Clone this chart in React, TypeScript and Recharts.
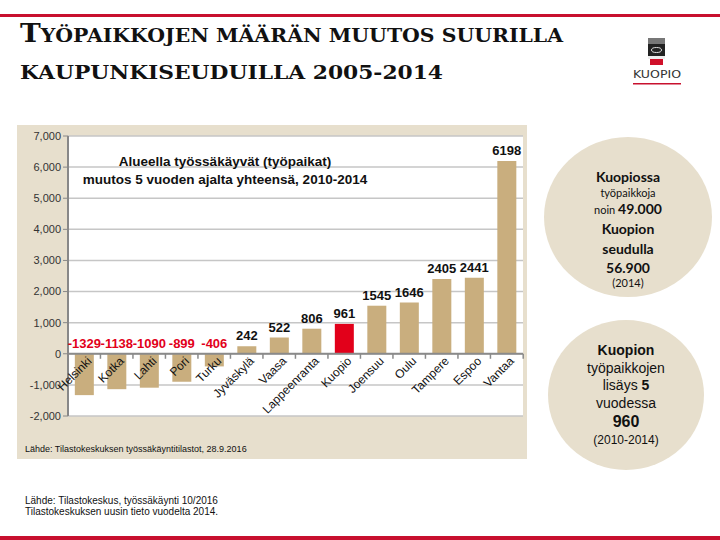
import React from 'react';
import { BarChart, Bar, XAxis, YAxis, CartesianGrid, ReferenceLine, Cell, LabelList } from 'recharts';

const regions = ['Helsinki', 'Kotka', 'Lahti', 'Pori', 'Turku', 'Jyväskylä', 'Vaasa', 'Lappeenranta', 'Kuopio', 'Joensuu', 'Oulu', 'Tampere', 'Espoo', 'Vantaa'];
const changes = [-1329, -1138, -1090, -899, -406, 242, 522, 806, 961, 1545, 1646, 2405, 2441, 6198];
const highlighted = 'Kuopio';
const yTicks = [-2000, -1000, 0, 1000, 2000, 3000, 4000, 5000, 6000, 7000];

const data = regions.map((name, i) => ({ name, value: changes[i] }));

const SANS = '"Liberation Sans", Arial, sans-serif';
const TAN = '#c9ae7e';
const RED = '#e2001a';
const BEIGE = '#e7dfcd';
const BAR_FRACTION = 0.58;

const getBox = (props: any) => {
  const vb = props.viewBox ?? props;
  return { x: Number(vb.x), y: Number(vb.y), width: Number(vb.width), height: Number(vb.height) };
};

const ValueLabel = (props: any) => {
  const { x, y, width, height } = getBox(props);
  const v = Number(props.value);
  const top = Math.min(y, y + height);
  return (
    <text x={x + width / 2} y={top - 6} textAnchor="middle" fontFamily={SANS} fontWeight="bold" fontSize={13} fill={v < 0 ? RED : '#111'}>
      {v}
    </text>
  );
};

const CategoryLabel = (props: any) => {
  const { x, y, width, height } = getBox(props);
  const v = data[props.index]?.value ?? 0;
  const zero = v >= 0 ? Math.max(y, y + height) : Math.min(y, y + height);
  const cx = x + width / 2;
  const half = width / (2 * BAR_FRACTION);
  const ax = cx + 8;
  const ay = zero + 8;
  const isLast = props.index === data.length - 1;
  return (
    <g>
      <line x1={cx - half} x2={cx - half} y1={zero} y2={zero + 5} stroke="#8a8a8a" strokeWidth={1.5} />
      {isLast && <line x1={cx + half} x2={cx + half} y1={zero} y2={zero + 5} stroke="#8a8a8a" strokeWidth={1.5} />}
      <text x={ax} y={ay} textAnchor="end" transform={`rotate(-45 ${ax} ${ay})`} fontFamily={SANS} fontSize={12} fill="#111">
        {props.value}
      </text>
    </g>
  );
};

const Line = ({ y, children, size = 14, bold = false, family = SANS, cx }: any) => (
  <div style={{ position: 'absolute', left: cx - 90, width: 180, top: y - 10, height: 20, lineHeight: '20px', textAlign: 'center', fontFamily: family, fontSize: size, fontWeight: bold ? 'bold' : 'normal', color: '#111', whiteSpace: 'nowrap' }}>
    {children}
  </div>
);

export default function App() {
  const LATO = 'Lato, "Open Sans", sans-serif';
  return (
    <div style={{ position: 'absolute', left: 0, top: 0, width: 720, height: 540, background: '#fff', overflow: 'hidden' }}>
      <svg width={720} height={540} style={{ position: 'absolute', left: 0, top: 0 }}>
        <rect x={0} y={14} width={720} height={3} fill="#c8102e" />
        <rect x={0} y={536} width={720} height={4} fill="#c8102e" />
        <text x={20} y={42} fontFamily='"DejaVu Serif", "Liberation Serif", serif' fontWeight="bold" fill="#111" textLength={543} lengthAdjust="spacingAndGlyphs">
          <tspan fontSize={26}>T</tspan>
          <tspan fontSize={19}>YÖPAIKKOJEN MÄÄRÄN MUUTOS SUURILLA</tspan>
        </text>
        <text x={20} y={79} fontFamily='"DejaVu Serif", "Liberation Serif", serif' fontWeight="bold" fontSize={19} fill="#111" textLength={423} lengthAdjust="spacingAndGlyphs">
          KAUPUNKISEUDUILLA 2005-2014
        </text>
        {/* Kuopio logo */}
        <g>
          <rect x={648} y={38} width={17} height={6} fill="#777" />
          <rect x={648} y={44} width={17} height={12} fill="#222" />
          <ellipse cx={656.5} cy={50} rx={5} ry={2.5} fill="none" stroke="#ddd" strokeWidth={1} />
          <rect x={648} y={56} width={17} height={3} fill="#eee" />
          <rect x={650} y={59} width={13} height={6} fill="#d0102a" />
          <text x={633} y={78} fontFamily='"DejaVu Sans Condensed", "DejaVu Sans", sans-serif' fontSize={11} fill="#333" textLength={48} lengthAdjust="spacingAndGlyphs">KUOPIO</text>
          <rect x={633} y={83} width={48} height={1.5} fill="#c8102e" />
        </g>
      </svg>

      <div style={{ position: 'absolute', left: 17, top: 125, width: 510, height: 334, background: BEIGE }} />
      <div style={{ position: 'absolute', left: 17, top: 125 }}>
        <BarChart width={510} height={334} data={data} margin={{ top: 11, right: 4, bottom: 43, left: 0 }} barCategoryGap="21%">
          <CartesianGrid vertical={false} stroke="#c6c6c6" strokeWidth={1.5} fill="#fff" />
          <XAxis dataKey="name" hide />
          <YAxis
            domain={[-2000, 7000]}
            ticks={yTicks}
            interval={0}
            width={51}
            tickSize={5}
            tickFormatter={(v: number) => v.toLocaleString('en-US')}
            tick={{ fontSize: 11, fill: '#333', fontFamily: SANS }}
            axisLine={{ stroke: '#888', strokeWidth: 2 }}
            tickLine={{ stroke: '#888' }}
          />
          <ReferenceLine y={0} stroke="#8a8a8a" strokeWidth={2} />
          <Bar dataKey="value" isAnimationActive={false}>
            {data.map((d) => (
              <Cell key={d.name} fill={d.name === highlighted ? RED : TAN} />
            ))}
            <LabelList dataKey="value" content={ValueLabel} />
            <LabelList dataKey="name" content={CategoryLabel} />
          </Bar>
        </BarChart>
      </div>

      <div style={{ position: 'absolute', left: 60, top: 153, width: 330, textAlign: 'center', fontFamily: SANS, fontSize: 13.5, fontWeight: 'bold', color: '#111', lineHeight: '18px' }}>
        Alueella työssäkäyvät (työpaikat)<br />muutos 5 vuoden ajalta yhteensä, 2010-2014
      </div>
      <div style={{ position: 'absolute', left: 25, top: 444, fontFamily: SANS, fontSize: 9, color: '#111', whiteSpace: 'nowrap' }}>
        Lähde: Tilastokeskuksen työssäkäyntitilastot, 28.9.2016
      </div>
      <div style={{ position: 'absolute', left: 25, top: 495, fontFamily: SANS, fontSize: 10, color: '#111', lineHeight: '11px', whiteSpace: 'nowrap' }}>
        Lähde: Tilastokeskus, työssäkäynti 10/2016<br />Tilastokeskuksen uusin tieto vuodelta 2014.
      </div>

      <div style={{ position: 'absolute', left: 544, top: 137, width: 168, height: 160, borderRadius: '50%', background: BEIGE }} />
      <div style={{ position: 'absolute', left: 548, top: 320, width: 156, height: 150, borderRadius: '50%', background: BEIGE }} />

      <Line cx={628} y={177} bold family={LATO}>Kuopiossa</Line>
      <Line cx={628} y={193} size={11} family={LATO}>työpaikkoja</Line>
      <Line cx={628} y={209} family={LATO}><span style={{ fontSize: 11 }}>noin </span><b>49.000</b></Line>
      <Line cx={628} y={229} bold family={LATO}>Kuopion</Line>
      <Line cx={628} y={249} bold family={LATO}>seudulla</Line>
      <Line cx={628} y={268} bold family={LATO}>56.900</Line>
      <Line cx={628} y={283} size={11} family={LATO}>(2014)</Line>

      <Line cx={626} y={350} bold>Kuopion</Line>
      <Line cx={626} y={368}>työpaikkojen</Line>
      <Line cx={626} y={385}>lisäys <b>5</b></Line>
      <Line cx={626} y={403}>vuodessa</Line>
      <Line cx={626} y={422} bold size={16}>960</Line>
      <Line cx={626} y={440} size={12}>(2010-2014)</Line>
    </div>
  );
}
